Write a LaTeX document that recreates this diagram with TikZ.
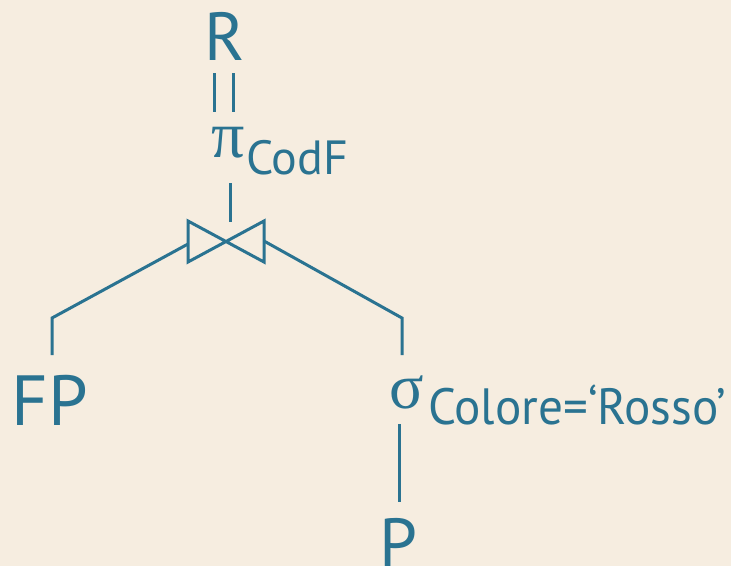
\documentclass[tikz,border=0pt]{standalone}
\usepackage{fontspec}
\setmainfont{PT Sans}
\newfontfamily\grk{Liberation Serif}
\newfontfamily\condf[FakeStretch=0.965]{PT Sans}
\definecolor{bgc}{HTML}{F6EDE0}
\definecolor{tc}{HTML}{2A7391}
\begin{document}
\begin{tikzpicture}[x=1pt,y=-1pt,
  lbl/.style={text=tc,inner sep=0pt,outer sep=0pt},
  ln/.style={draw=tc,line width=3pt}]
\fill[bgc] (0,0) rectangle (731,566);
\useasboundingbox (0,0) rectangle (731,566);
% texts
\node[lbl,anchor=base] (R) at (225,60) {\fontsize{68}{68}\selectfont R};
\node[lbl,anchor=base west] (pi) at (211,157) {\fontsize{66}{66}\grk π};
\node[lbl,anchor=base west] (codf) at (246,174) {\fontsize{48}{48}\selectfont CodF};
\node[lbl,anchor=base west] (FP) at (12,425) {\fontsize{71}{71}\selectfont FP};
\node[lbl,anchor=base west] (sigma) at (389,408) {\fontsize{64}{64}\grk σ};
\node[lbl,anchor=base west] (cond) at (428,424) {\fontsize{51}{51}\condf Colore=‘Rosso’};
\node[lbl,anchor=base] (P) at (399,566) {\fontsize{68}{68}\selectfont P};
% coordinates
\coordinate (eqA1) at (214,73); \coordinate (eqA2) at (214,112);
\coordinate (eqB1) at (233,73); \coordinate (eqB2) at (233,112);
\coordinate (pibot) at (230,183); \coordinate (jtop) at (230,222);
\coordinate (jl) at (188,244); \coordinate (jr) at (264,241);
\coordinate (lc) at (52,318); \coordinate (lb) at (52,355);
\coordinate (rc) at (402,318); \coordinate (rb) at (402,355);
\coordinate (st) at (399,424); \coordinate (sb) at (399,502);
% connectors
\draw[ln] (eqA1) -- (eqA2);
\draw[ln] (eqB1) -- (eqB2);
\draw[ln] (pibot) -- (jtop);
\draw[ln,line join=miter] (188,221) -- (188,262) -- (264,221) -- (264,262) -- cycle;
\draw[ln] (jl) -- (lc) -- (lb);
\draw[ln] (jr) -- (rc) -- (rb);
\draw[ln] (st) -- (sb);
\end{tikzpicture}
\end{document}
